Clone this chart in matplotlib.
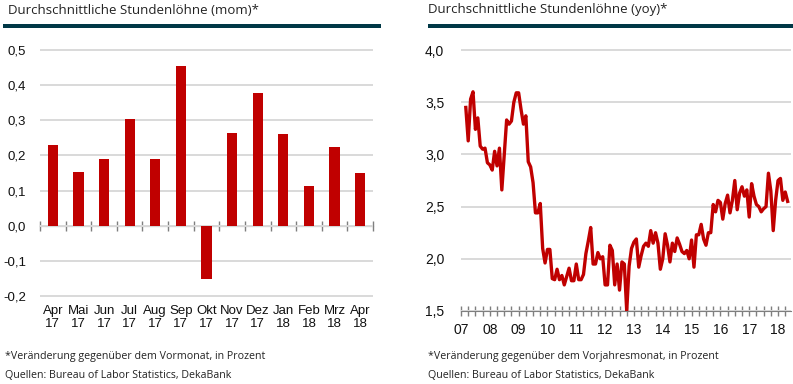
import numpy as np
import matplotlib
matplotlib.use("Agg")
import matplotlib.pyplot as plt
from matplotlib.ticker import FuncFormatter, MultipleLocator

# --- data: month-on-month change (left chart)
mom_months = ["Apr", "Mai", "Jun", "Jul", "Aug", "Sep", "Okt", "Nov", "Dez", "Jan", "Feb", "Mrz", "Apr"]
mom_years = ["17", "17", "17", "17", "17", "17", "17", "17", "17", "18", "18", "18", "18"]
mom_values = [0.229, 0.153, 0.190, 0.305, 0.190, 0.454, -0.152, 0.264, 0.377, 0.262, 0.112, 0.224, 0.149]

# --- data: year-on-year change, monthly from Mar 2007 to Apr 2018 (right chart)
yoy_start_year = 2007
yoy_start_month = 3
yoy_values = [
    3.45, 3.13, 3.53, 3.60, 3.24, 3.35, 3.08, 3.05, 3.06, 2.92,
    2.90, 2.85, 3.03, 2.89, 3.06, 2.66, 3.00, 3.33, 3.29, 3.32,
    3.50, 3.59, 3.59, 3.43, 3.29, 3.37, 2.93, 2.88, 2.73, 2.44,
    2.44, 2.53, 2.10, 1.96, 2.09, 2.09, 1.81, 1.80, 1.90, 1.80,
    1.84, 1.75, 1.83, 1.91, 1.79, 1.79, 1.95, 1.80, 1.80, 1.85,
    2.05, 2.17, 2.30, 1.95, 1.95, 2.06, 2.00, 2.02, 1.75, 1.75,
    2.13, 2.08, 1.75, 1.95, 1.70, 1.97, 1.95, 1.50, 1.93, 2.10,
    2.16, 2.19, 1.92, 2.03, 2.12, 2.15, 2.12, 2.27, 2.15, 2.25,
    2.15, 1.90, 2.00, 2.24, 2.13, 1.97, 2.15, 2.07, 2.20, 2.14,
    2.07, 2.05, 2.08, 2.00, 2.18, 1.92, 2.23, 2.23, 2.33, 2.19,
    2.13, 2.25, 2.25, 2.52, 2.45, 2.56, 2.54, 2.38, 2.53, 2.61,
    2.44, 2.56, 2.75, 2.47, 2.63, 2.69, 2.60, 2.66, 2.40, 2.72,
    2.60, 2.52, 2.50, 2.45, 2.48, 2.50, 2.82, 2.65, 2.27, 2.56,
    2.75, 2.77, 2.56, 2.64, 2.55,
]
yoy_year_labels = ["07", "08", "09", "10", "11", "12", "13", "14", "15", "16", "17", "18"]

RED = "#C00000"
BAR_DARK = "#003846"
GRID = "#D9D9D9"
AXIS = "#7F7F7F"
TXT = "#111111"
TITLE_FONT = "Open Sans"
TICK_FONT = "Liberation Sans"

W, H = 793, 384
fig = plt.figure(figsize=(W / 100, H / 100), dpi=100)


def box(x0, y0, x1, y1):
    # pixel box (top-left origin) -> figure fraction rect
    return [x0 / W, 1 - y1 / H, (x1 - x0) / W, (y1 - y0) / H]


comma = FuncFormatter(lambda v, p: f"{v:.1f}".replace(".", ","))

# ---------------- left: mom bars ----------------
ylo, yhi = -0.21, 0.51
ax = fig.add_axes(box(40, 46.5, 373, 299.5))
x = np.arange(len(mom_values))
ax.bar(x, mom_values, width=0.4, color=RED, zorder=3)
ax.set_xlim(-0.5, len(mom_values) - 0.5)
ax.set_ylim(ylo, yhi)
ax.yaxis.set_major_locator(MultipleLocator(0.1))
ax.yaxis.set_major_formatter(comma)
ax.grid(axis="y", color=GRID, linewidth=1.4, zorder=0)
for s in ax.spines.values():
    s.set_visible(False)
ax.set_xticks(x)
ax.set_xticklabels([f"{m}\n{y}" for m, y in zip(mom_months, mom_years)],
                   fontfamily=TICK_FONT, fontsize=9.5, color=TXT, linespacing=1.1)
ax.tick_params(axis="x", length=0, pad=4)
ax.tick_params(axis="y", length=0, pad=10, labelsize=9.5, labelcolor=TXT)
for lab in ax.get_yticklabels():
    lab.set_fontfamily(TICK_FONT)

# zero line with category separators
zero = ax.secondary_xaxis((0 - ylo) / (yhi - ylo))
zero.set_xticks(np.arange(len(mom_values) + 1) - 0.5)
zero.set_xticklabels([])
zero.spines["bottom"].set_color(AXIS)
zero.tick_params(direction="inout", length=7, color=AXIS, width=1)

# ---------------- right: yoy line ----------------
ax2 = fig.add_axes(box(461, 46.9, 791, 311))
t = yoy_start_year + (yoy_start_month - 1 + np.arange(len(yoy_values))) / 12
ax2.plot(t, yoy_values, color=RED, linewidth=2.4, zorder=3, solid_joinstyle="round")
ax2.set_xlim(2007, 2018.45)
ax2.set_ylim(1.5, 4.03)
ax2.yaxis.set_major_locator(MultipleLocator(0.5))
ax2.yaxis.set_major_formatter(comma)
ax2.grid(axis="y", color=GRID, linewidth=1.4, zorder=0)
for k in ["top", "right", "left"]:
    ax2.spines[k].set_visible(False)
ax2.spines["bottom"].set_color(AXIS)
ax2.set_xticks(np.arange(2007, 2019))
ax2.set_xticklabels(yoy_year_labels, fontfamily=TICK_FONT, fontsize=10, color=TXT)
ax2.set_xticks(np.arange(2007, 2018.5, 0.25), minor=True)
ax2.tick_params(axis="x", which="both", direction="inout", length=7, width=1, color=AXIS, pad=5)
ax2.tick_params(axis="y", length=0, pad=12, labelsize=10, labelcolor=TXT)
for lab in ax2.get_yticklabels():
    lab.set_fontfamily(TICK_FONT)

# ---------------- titles, bars, notes ----------------
fig.text(8 / W, 1 - 10 / H, "Durchschnittliche Stundenlöhne (mom)*", fontfamily=TITLE_FONT,
         fontsize=9.5, color="#222222", va="center", ha="left")
fig.text(428 / W, 1 - 10 / H, "Durchschnittliche Stundenlöhne (yoy)*", fontfamily=TITLE_FONT,
         fontsize=9.5, color="#222222", va="center", ha="left")
fig.add_artist(plt.Rectangle((3 / W, 1 - 27.5 / H), 378 / W, 4 / H, transform=fig.transFigure,
                             color=BAR_DARK, lw=0))
fig.add_artist(plt.Rectangle((428 / W, 1 - 27.5 / H), 365 / W, 4 / H, transform=fig.transFigure,
                             color=BAR_DARK, lw=0))

notes_left = ["*Veränderung gegenüber dem Vormonat, in Prozent",
              "Quellen: Bureau of Labor Statistics, DekaBank"]
notes_right = ["*Veränderung gegenüber dem Vorjahresmonat, in Prozent",
               "Quellen: Bureau of Labor Statistics, DekaBank"]
for i, (a, b) in enumerate(zip(notes_left, notes_right)):
    yy = 1 - (357 + 18.5 * i) / H
    fig.text(5 / W, yy, a, fontfamily=TITLE_FONT, fontsize=7.7, color="#222222", va="center")
    fig.text(428 / W, yy, b, fontfamily=TITLE_FONT, fontsize=7.7, color="#222222", va="center")

fig.savefig("out.png", dpi=100)
